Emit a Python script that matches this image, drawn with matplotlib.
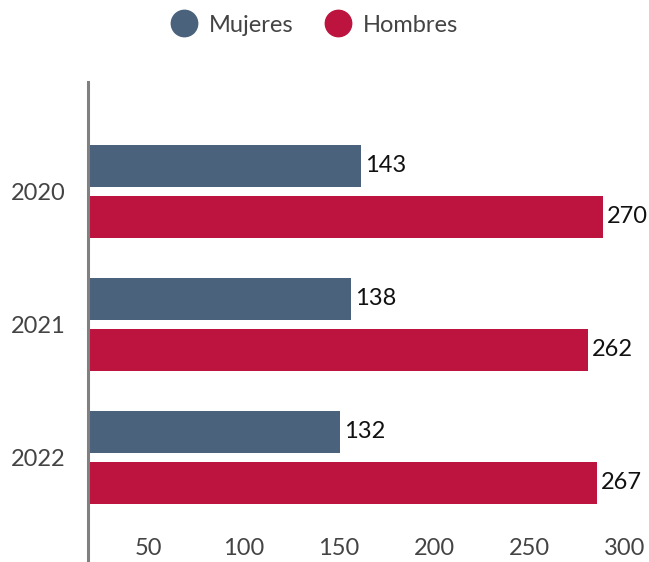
import numpy as np
import matplotlib
matplotlib.use('Agg')
import matplotlib.pyplot as plt
from matplotlib.lines import Line2D
from matplotlib.transforms import ScaledTranslation

# data
years = ['2020', '2021', '2022']
mujeres = [143, 138, 132]
hombres = [270, 262, 267]
xticks = [50, 100, 150, 200, 250, 300]

c_muj = '#4b627c'
c_hom = '#bc143e'
txt = '#444444'

plt.rcParams['font.family'] = ['Lato', 'DejaVu Sans']

fig = plt.figure(figsize=(6.49, 5.62), dpi=100)
W, H = 649., 562.
# axes: left edge at x=88, top at y=82, bottom at image bottom
ax = fig.add_axes([88/W, 0.0, 572/W, (562-82)/H])

y = np.arange(len(years))
bh = 0.316
off = 0.192
ax.barh(y - off, mujeres, height=bh, color=c_muj)
ax.barh(y + off, hombres, height=bh, color=c_hom)

for i in range(len(years)):
    ax.annotate(str(mujeres[i]), (mujeres[i], y[i] - off), xytext=(3, 0),
                textcoords='offset points', va='center', ha='left',
                fontsize=17, color='#111111')
    ax.annotate(str(hombres[i]), (hombres[i], y[i] + off), xytext=(3, 0),
                textcoords='offset points', va='center', ha='left',
                fontsize=17, color='#111111')

ax.set_xlim(0, 300)
ax.set_ylim(2.786, -0.823)
ax.set_yticks(y)
ax.set_yticklabels(years, fontsize=17, color=txt)
ax.set_xticks(xticks)
ax.set_xticklabels([str(v) for v in xticks], fontsize=17, color=txt)
ax.tick_params(axis='both', length=0)
ax.tick_params(axis='y', pad=16)
ax.tick_params(axis='x', pad=-17)

# labels sit a bit to the left of their ticks in the original
shift = ScaledTranslation(-35/100., 0, fig.dpi_scale_trans)
for lab in ax.get_xticklabels():
    lab.set_transform(lab.get_transform() + shift)

for s in ['top', 'right', 'bottom']:
    ax.spines[s].set_visible(False)
ax.spines['left'].set_color('#808080')
ax.spines['left'].set_linewidth(2.2)

handles = [Line2D([], [], marker='o', ls='', markersize=19, color=c_muj),
           Line2D([], [], marker='o', ls='', markersize=19, color=c_hom)]
fig.legend(handles, ['Mujeres', 'Hombres'], loc='center',
           bbox_to_anchor=(314/W, 1 - 25/H), ncol=2, frameon=False,
           fontsize=17, labelcolor=txt, handletextpad=0.45,
           columnspacing=1.3, handlelength=1.2)

fig.savefig('out.png', dpi=100)
